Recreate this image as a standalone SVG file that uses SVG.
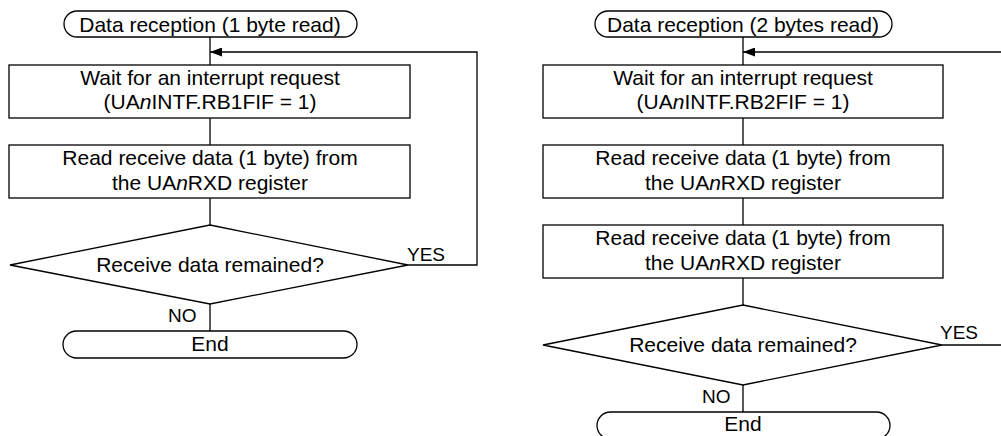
<svg xmlns="http://www.w3.org/2000/svg" width="1001" height="436" viewBox="0 0 1001 436">
<style>
.s{fill:#fff;stroke:#000;stroke-width:1.3}
.c{fill:none;stroke:#000;stroke-width:1.3}
.t{font-family:"Liberation Sans",Arial,Helvetica,sans-serif;font-size:21px;fill:#000;text-anchor:middle}
.l{font-family:"Liberation Sans",Arial,Helvetica,sans-serif;font-size:19px;fill:#000}
.i{font-style:italic}
</style>
<defs>
<marker id="ah" markerUnits="userSpaceOnUse" markerWidth="12" markerHeight="9" refX="12" refY="4.5" orient="auto">
<path d="M0,0 L12,4.5 L0,9 Z" fill="#000"/>
</marker>
</defs>
<g id="connectors">
<path class="c" d="M210,37 V65"/>
<path class="c" d="M210,118 V145"/>
<path class="c" d="M210,198 V225"/>
<path class="c" d="M210,304 V331"/>
<path class="c" d="M408,265 H477 V52 H210" marker-end="url(#ah)"/>
<text class="l" x="407" y="261">YES</text>
<text class="l" x="168" y="322">NO</text>
<path class="c" d="M743,37 V65"/>
<path class="c" d="M743,118 V145"/>
<path class="c" d="M743,198 V225"/>
<path class="c" d="M743,278 V305"/>
<path class="c" d="M743,385 V412"/>
<path class="c" d="M942,345 H1010"/>
<path class="c" d="M1010,52 H743" marker-end="url(#ah)"/>
<text class="l" x="940" y="339">YES</text>
<text class="l" x="702" y="403">NO</text>
</g>
<g id="start1">
<rect class="s" x="64" y="11" width="293" height="26" rx="13" ry="13"/>
<text class="t" x="210" y="31.5">Data reception (1 byte read)</text>
</g>
<g id="wait1">
<rect class="s" x="9" y="65" width="401" height="53"/>
<text class="t" x="210" y="85">Wait for an interrupt request</text>
<text class="t" x="210" y="109">(UA<tspan class="i">n</tspan>INTF.RB1FIF = 1)</text>
</g>
<g id="read1">
<rect class="s" x="9" y="145" width="401" height="53"/>
<text class="t" x="210" y="165">Read receive data (1 byte) from</text>
<text class="t" x="210" y="190">the UA<tspan class="i">n</tspan>RXD register</text>
</g>
<g id="decision1">
<polygon class="s" points="210,225 408,265 210,304 10,265"/>
<text class="t" x="210" y="272">Receive data remained?</text>
</g>
<g id="end1">
<rect class="s" x="63" y="331" width="294" height="27" rx="13.5" ry="13.5"/>
<text class="t" x="210" y="351">End</text>
</g>
<g id="start2">
<rect class="s" x="595" y="11" width="297" height="26" rx="13" ry="13"/>
<text class="t" x="743" y="31.5">Data reception (2 bytes read)</text>
</g>
<g id="wait2">
<rect class="s" x="543" y="65" width="400" height="53"/>
<text class="t" x="743" y="85">Wait for an interrupt request</text>
<text class="t" x="743" y="109">(UA<tspan class="i">n</tspan>INTF.RB2FIF = 1)</text>
</g>
<g id="read2a">
<rect class="s" x="543" y="145" width="400" height="53"/>
<text class="t" x="743" y="165">Read receive data (1 byte) from</text>
<text class="t" x="743" y="190">the UA<tspan class="i">n</tspan>RXD register</text>
</g>
<g id="read2b">
<rect class="s" x="543" y="225" width="400" height="53"/>
<text class="t" x="743" y="245">Read receive data (1 byte) from</text>
<text class="t" x="743" y="270">the UA<tspan class="i">n</tspan>RXD register</text>
</g>
<g id="decision2">
<polygon class="s" points="743,305 942,345 743,385 543,345"/>
<text class="t" x="743" y="352">Receive data remained?</text>
</g>
<g id="end2">
<rect class="s" x="597" y="412" width="293" height="27" rx="13.5" ry="13.5"/>
<text class="t" x="743" y="431">End</text>
</g>
</svg>
